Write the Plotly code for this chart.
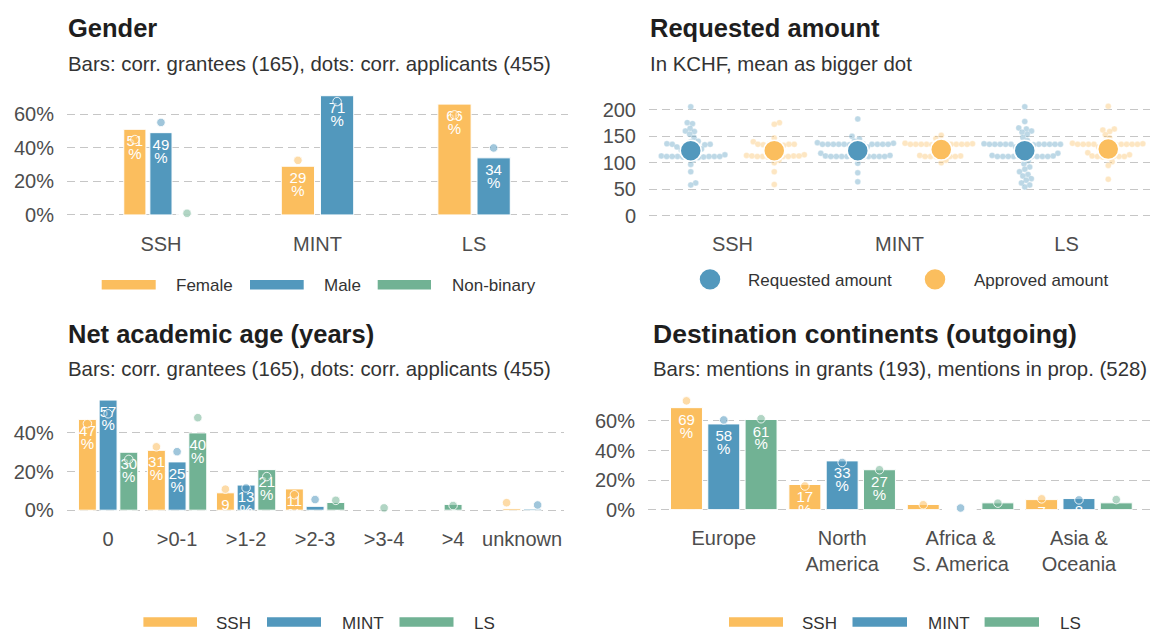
import math
import plotly.graph_objects as go

W, H = 1154, 637
FONT = "Liberation Sans"
ORANGE = "#FBBE5E"
BLUE = "#5298BD"
GREEN = "#71B294"
TICK_COLOR = "#4D4D4D"
TEXT_COLOR = "#333333"
TITLE_COLOR = "#1E1E1E"
GRID_COLOR = "#C6C6C6"

# ---------------- data ----------------
# Panel 1: Gender (bars = grantees %, dots = applicants %)
gender_cats = ["SSH", "MINT", "LS"]
gender_series = ["Female", "Male", "Non-binary"]
gender_bar_female = [51, 29, 66]
gender_bar_male = [49, 71, 34]
gender_bar_nonbinary = [0, None, None]
gender_dot_female = [44.9, 32.5, 59.6]
gender_dot_male = [55.1, 67.5, 39.9]
gender_dot_nonbinary = [1.0, None, None]

# Panel 2: Requested / approved amount (KCHF)
amount_cats = ["SSH", "MINT", "LS"]
requested_ssh = [206, 176, 174, 165, 160, 159, 154, 148, 141, 140,
                 136, 135, 135, 134, 133, 132, 130,
                 128, 126, 124, 122, 120, 118,
                 115, 113, 112, 112, 112, 112, 112, 112, 111, 111, 110, 110,
                 106, 97, 83, 62, 58]
requested_mint = [183, 150, 145, 141, 138,
                  137, 136, 135, 135, 135, 135, 135, 135, 135, 135, 135, 134, 133,
                  130, 127, 124, 121, 118,
                  114, 113, 112, 112, 112, 112, 112, 112, 112, 112, 112, 111, 110,
                  99, 81, 64]
requested_ls = [206, 178, 166, 164, 160, 158, 154, 148, 142,
                136, 135, 135, 135, 135, 135, 135, 135, 135, 135, 135, 134, 133,
                130, 127, 124, 121, 118,
                114, 113, 112, 112, 112, 112, 112, 112, 112, 112, 112, 111,
                104, 98, 92, 88, 83, 78, 75, 70, 67, 62, 58, 54]
approved_ssh = [176, 173, 147, 140, 137, 136, 135, 135, 135, 134, 133, 130, 127, 124, 121,
                118, 115, 114, 113, 113, 113, 112, 112, 112, 112, 111, 110,
                105, 100, 83, 59]
approved_mint = [152, 146, 141, 138, 137, 136, 135, 135, 135, 135, 135, 135, 135, 135,
                 134, 133, 130, 127, 124, 121, 118, 114, 113,
                 112, 112, 112, 112, 112, 111, 105, 100]
approved_ls = [207, 164, 162, 159, 153, 147, 141, 137, 136,
               135, 135, 135, 135, 135, 135, 135, 135, 134, 133,
               130, 128, 125, 122, 119, 115, 113, 112, 112, 112, 112, 111, 110,
               102, 95, 69]
requested_mean = [123, 123, 123]
approved_mean = [123, 125, 126]

# Panel 3: Net academic age (years)
age_cats = ["0", ">0-1", ">1-2", ">2-3", ">3-4", ">4", "unknown"]
age_bar_ssh = [47, 31, 9, 11, None, None, 0.8]
age_bar_mint = [57, 25, 13, 2, None, None, 0.6]
age_bar_ls = [30, 40, 21, 4, None, 3, None]
age_dot_ssh = [44.8, 32.8, 10.9, 8.0, None, None, 3.9]
age_dot_mint = [49.9, 30.3, 11.5, 5.5, None, None, 2.7]
age_dot_ls = [26.3, 47.9, 17.4, 5.1, 1.2, 2.4, None]

# Panel 4: Destination continents (outgoing)
dest_cats = ["Europe", "North<br>America", "Africa &<br>S. America", "Asia &<br>Oceania"]
dest_bar_ssh = [69, 17, 3.5, 6.8]
dest_bar_mint = [58, 33, 0, 7.5]
dest_bar_ls = [61, 27, 4.6, 4.6]
dest_dot_ssh = [73.6, 16.0, 3.3, 7.3]
dest_dot_mint = [60.7, 31.9, 1.1, 6.6]
dest_dot_ls = [61.5, 27.0, 4.4, 6.8]

field_series = ["SSH", "MINT", "LS"]

# ---------------- geometry ----------------
def px_x(p):
    return p / W


def px_y(p):
    return 1 - p / H


PANELS = {
    1: dict(x0=67, x1=568, y0=89.6, y1=222.0, xr=[0.4, 3.6], yr=[-3.55, 74.55]),
    2: dict(x0=649, x1=1150, y0=100.1, y1=222.3, xr=[0.5, 3.5], yr=[-10.5, 218.5]),
    3: dict(x0=66.7, x1=563.5, y0=397.3, y1=519.6, xr=[0.4, 7.6], yr=[-2.85, 59.85]),
    4: dict(x0=648, x1=1150, y0=398.6, y1=519.0, xr=[0.36, 4.6], yr=[-3.7, 77.0]),
}


def ppu_y(p):
    return (p["y1"] - p["y0"]) / (p["yr"][1] - p["yr"][0])


def ppu_x(p):
    return (p["x1"] - p["x0"]) / (p["xr"][1] - p["xr"][0])


def rgba(hexcol, a):
    h = hexcol.lstrip("#")
    r, g, b = int(h[0:2], 16), int(h[2:4], 16), int(h[4:6], 16)
    return f"rgba({r},{g},{b},{a})"


def dodge_total(series_list, width):
    ncat = len(series_list[0])
    offs = [[None] * ncat for _ in series_list]
    slots = [None] * ncat
    for c in range(ncat):
        pres = [g for g, s in enumerate(series_list) if s[c] is not None]
        k = len(pres)
        if k == 0:
            continue
        slots[c] = width / k
        for i, g in enumerate(pres):
            offs[g][c] = width * ((i + 0.5) / k - 0.5)
    return offs, slots


def dodge_single(series_list, slot):
    ncat = len(series_list[0])
    offs = [[None] * ncat for _ in series_list]
    for c in range(ncat):
        pres = [g for g, s in enumerate(series_list) if s[c] is not None]
        k = len(pres)
        for i, g in enumerate(pres):
            offs[g][c] = (i - (k - 1) / 2) * slot
    return offs


def swarm_offsets(values, y_ppu, x_ppu, d):
    order = sorted(range(len(values)), key=lambda i: values[i])
    placed = []
    out = [0.0] * len(values)
    for i in order:
        y = values[i] * y_ppu
        cands = [0.0]
        for (px, py) in placed:
            dy = abs(py - y)
            if dy < d:
                dx = math.sqrt(d * d - dy * dy)
                cands.append(px + dx)
                cands.append(px - dx)
        cands.sort(key=lambda c: round(abs(c), 6))
        chosen = 0.0
        for cnd in cands:
            if all((cnd - px) ** 2 + (y - py) ** 2 >= d * d - 1e-6 for (px, py) in placed):
                chosen = cnd
                break
        placed.append((chosen, y))
        out[i] = chosen / x_ppu
    return out


fig = go.Figure()


def axis_names(n):
    return ("x" if n == 1 else f"x{n}"), ("y" if n == 1 else f"y{n}")


def add_bars(n, bar_series, bar_offs, bar_widths, colors):
    xa, ya = axis_names(n)
    for g, vals in enumerate(bar_series):
        xs, ys, ws = [], [], []
        for c, v in enumerate(vals):
            if v is None:
                continue
            xs.append(c + 1 + bar_offs[g][c])
            ys.append(v)
            ws.append(bar_widths[g][c])
        fig.add_trace(go.Bar(x=xs, y=ys, width=ws, xaxis=xa, yaxis=ya,
                             marker=dict(color=colors[g], line=dict(color="white", width=1)),
                             showlegend=False, hoverinfo="skip"))


def add_labels(n, bar_series, bar_offs):
    """White value labels inside the bar tops ("NN" over "%"); labels that fall
    completely below the panel (clipped anyway) are skipped."""
    xa, ya = axis_names(n)
    p = PANELS[n]
    k = ppu_y(p)
    bottom_room = (0 - p["yr"][0]) * k  # pixels between value 0 and panel bottom
    for g, vals in enumerate(bar_series):
        for off_px, kind in [(13.5, "num"), (26.5, "pct")]:
            xs, ys, ts = [], [], []
            for c, v in enumerate(vals):
                if v is None:
                    continue
                centre_below_zero = off_px - v * k
                if centre_below_zero - 6 > bottom_room:
                    continue
                xs.append(c + 1 + bar_offs[g][c])
                ys.append(v - off_px / k)
                ts.append(str(int(round(v))) if kind == "num" else "%")
            fig.add_trace(go.Scatter(x=xs, y=ys, text=ts, mode="text", xaxis=xa, yaxis=ya,
                                     textposition="middle center",
                                     textfont=dict(family=FONT, size=15, color="white"),
                                     showlegend=False, hoverinfo="skip"))


def add_dots(n, dot_series, dot_offs, colors):
    xa, ya = axis_names(n)
    for g, vals in enumerate(dot_series):
        xs, ys = [], []
        for c, v in enumerate(vals):
            if v is None:
                continue
            xs.append(c + 1 + dot_offs[g][c])
            ys.append(v)
        fig.add_trace(go.Scatter(x=xs, y=ys, mode="markers", xaxis=xa, yaxis=ya,
                                 marker=dict(size=8.5, color=rgba(colors[g], 0.55),
                                             line=dict(color="rgba(255,255,255,0.85)", width=1)),
                                 showlegend=False, hoverinfo="skip"))


# ---- Panel 1 ----
cols3 = [ORANGE, BLUE, GREEN]
g_bars = [gender_bar_female, gender_bar_male, gender_bar_nonbinary]
g_dots = [gender_dot_female, gender_dot_male, gender_dot_nonbinary]
g_offs, g_slots = dodge_total(g_bars, 0.5)
g_widths = [[(g_slots[c] * 0.85 if g_slots[c] else None) for c in range(3)] for _ in g_bars]
add_bars(1, g_bars, g_offs, g_widths, cols3)
add_labels(1, g_bars, g_offs)
gd_offs, _ = dodge_total(g_dots, 0.5)
add_dots(1, g_dots, gd_offs, cols3)

# ---- Panel 3 ----
a_bars = [age_bar_ssh, age_bar_mint, age_bar_ls]
a_dots = [age_dot_ssh, age_dot_mint, age_dot_ls]
a_offs = dodge_single(a_bars, 0.3)
a_widths = [[0.26] * len(age_cats) for _ in a_bars]
add_bars(3, a_bars, a_offs, a_widths, cols3)
add_labels(3, a_bars, a_offs)
ad_offs, _ = dodge_total(a_dots, 0.9)
add_dots(3, a_dots, ad_offs, cols3)

# ---- Panel 4 ----
d_bars = [dest_bar_ssh, dest_bar_mint, dest_bar_ls]
d_dots = [dest_dot_ssh, dest_dot_mint, dest_dot_ls]
d_offs, _ = dodge_total(d_bars, 0.945)
d_widths = [[0.27] * len(dest_cats) for _ in d_bars]
add_bars(4, d_bars, d_offs, d_widths, cols3)
add_labels(4, d_bars, d_offs)
dd_offs, _ = dodge_total(d_dots, 0.945)
add_dots(4, d_dots, dd_offs, cols3)

# ---- Panel 2 (beeswarm) ----
p2 = PANELS[2]
req_lists = [requested_ssh, requested_mint, requested_ls]
app_lists = [approved_ssh, approved_mint, approved_ls]
for lists, col, shift in [(req_lists, BLUE, -0.25), (app_lists, ORANGE, 0.25)]:
    xs, ys = [], []
    for c, vals in enumerate(lists):
        offs = swarm_offsets(vals, ppu_y(p2), ppu_x(p2), 5.4)
        xs += [c + 1 + shift + o for o in offs]
        ys += list(vals)
    fig.add_trace(go.Scatter(x=xs, y=ys, mode="markers", xaxis="x2", yaxis="y2",
                             marker=dict(size=6, color=rgba(col, 0.38),
                                         line=dict(color="rgba(255,255,255,0.55)", width=0.6)),
                             showlegend=False, hoverinfo="skip"))
for means, col, shift in [(requested_mean, BLUE, -0.25), (approved_mean, ORANGE, 0.25)]:
    fig.add_trace(go.Scatter(x=[c + 1 + shift for c in range(len(means))], y=means,
                             mode="markers", xaxis="x2", yaxis="y2",
                             marker=dict(size=21, color=col, line=dict(color="white", width=1.5)),
                             showlegend=False, hoverinfo="skip"))

# ---------------- axes ----------------
tickfont = dict(family=FONT, size=20, color=TICK_COLOR)
axis_cats = {1: gender_cats, 2: amount_cats, 3: age_cats, 4: dest_cats}
yticks = {1: [0, 20, 40, 60], 2: [0, 50, 100, 150, 200], 3: [0, 20, 40], 4: [0, 20, 40, 60]}
layout_axes = {}
for n, p in PANELS.items():
    xa, ya = axis_names(n)
    xkey = "xaxis" if n == 1 else f"xaxis{n}"
    ykey = "yaxis" if n == 1 else f"yaxis{n}"
    cats = axis_cats[n]
    layout_axes[xkey] = dict(domain=[px_x(p["x0"]), px_x(p["x1"])], range=p["xr"], anchor=ya,
                             tickmode="array", tickvals=list(range(1, len(cats) + 1)), ticktext=cats,
                             showgrid=False, zeroline=False, showline=False, ticks="",
                             tickfont=tickfont, ticklabelstandoff=9, fixedrange=True)
    layout_axes[ykey] = dict(domain=[px_y(p["y1"]), px_y(p["y0"])], range=p["yr"], anchor=xa,
                             tickmode="array", tickvals=yticks[n],
                             ticktext=[(f"{v}%" if n != 2 else f"{v}") for v in yticks[n]],
                             showgrid=True, gridcolor=GRID_COLOR, gridwidth=1.2, griddash="8px,5px",
                             zeroline=False, showline=False, ticks="",
                             tickfont=tickfont, ticklabelstandoff=12, fixedrange=True)

# ---------------- titles, legends ----------------
annotations = []
shapes = []


def text(x, y, s, size, color, bold=False):
    annotations.append(dict(x=px_x(x - 2), y=px_y(y), xref="paper", yref="paper", text=s,
                            xanchor="left", yanchor="middle", showarrow=False,
                            font=dict(family=FONT, size=size, color=color,
                                      weight=("bold" if bold else "normal"))))


text(68, 27.5, "Gender", 25.5, TITLE_COLOR, True)
text(68, 63.5, "Bars: corr. grantees (165), dots: corr. applicants (455)", 20.4, TEXT_COLOR)
text(650, 27.5, "Requested amount", 25.5, TITLE_COLOR, True)
text(650, 63.5, "In KCHF, mean as bigger dot", 20.4, TEXT_COLOR)
text(68, 336, "Net academic age (years)", 25.5, TITLE_COLOR, True)
text(68, 372, "Bars: corr. grantees (165), dots: corr. applicants (455)", 20.4, TEXT_COLOR)
text(653, 336, "Destination continents (outgoing)", 26.5, TITLE_COLOR, True)
text(653, 372, "Bars: mentions in grants (193), mentions in prop. (528)", 20.4, TEXT_COLOR)


def key_rect(x0, x1, yc, color, label, tx):
    shapes.append(dict(type="rect", xref="paper", yref="paper",
                       x0=px_x(x0), x1=px_x(x1), y0=px_y(yc + 4.8), y1=px_y(yc - 4.8),
                       fillcolor=color, line=dict(width=0)))
    text(tx + 2, yc + 1, label, 17, TEXT_COLOR)


key_rect(101.7, 155.7, 286.5, ORANGE, gender_series[0], 174.3)
key_rect(250, 303.7, 286.5, BLUE, gender_series[1], 322.3)
key_rect(377.7, 431, 286.5, GREEN, gender_series[2], 450)

key_rect(143.4, 197, 627, ORANGE, field_series[0], 214)
key_rect(267, 321, 627, BLUE, field_series[1], 340)
key_rect(399.5, 453.5, 627, GREEN, field_series[2], 471.5)

key_rect(729, 783, 627, ORANGE, field_series[0], 800)
key_rect(852.5, 907, 627, BLUE, field_series[1], 925.5)
key_rect(984.6, 1039, 627, GREEN, field_series[2], 1057.6)

for cx, col, label, tx in [(710, BLUE, "Requested amount", 746), (935, ORANGE, "Approved amount", 972)]:
    shapes.append(dict(type="circle", xref="paper", yref="paper",
                       x0=px_x(cx - 11), x1=px_x(cx + 11), y0=px_y(281 + 11), y1=px_y(281 - 11),
                       fillcolor=col, line=dict(color="white", width=1.5)))
    text(tx + 2, 282, label, 17, TEXT_COLOR)

fig.update_layout(width=W, height=H, margin=dict(l=0, r=0, t=0, b=0),
                  paper_bgcolor="white", plot_bgcolor="white",
                  barmode="overlay", showlegend=False,
                  font=dict(family=FONT, color=TEXT_COLOR),
                  annotations=annotations, shapes=shapes, **layout_axes)

POST = (
    "document.documentElement.style.margin='0';"
    "document.documentElement.style.overflow='hidden';"
    "document.body.style.margin='0';"
    "document.body.style.overflow='hidden';"
    "document.body.style.lineHeight='0';"
    "var sc=document.querySelectorAll('.svg-container');"
    "for(var i=0;i<sc.length;i++){sc[i].style.display='block';}"
)
fig.write_html("out.html", include_plotlyjs=True, full_html=True,
               config={"displayModeBar": False}, post_script=POST)
